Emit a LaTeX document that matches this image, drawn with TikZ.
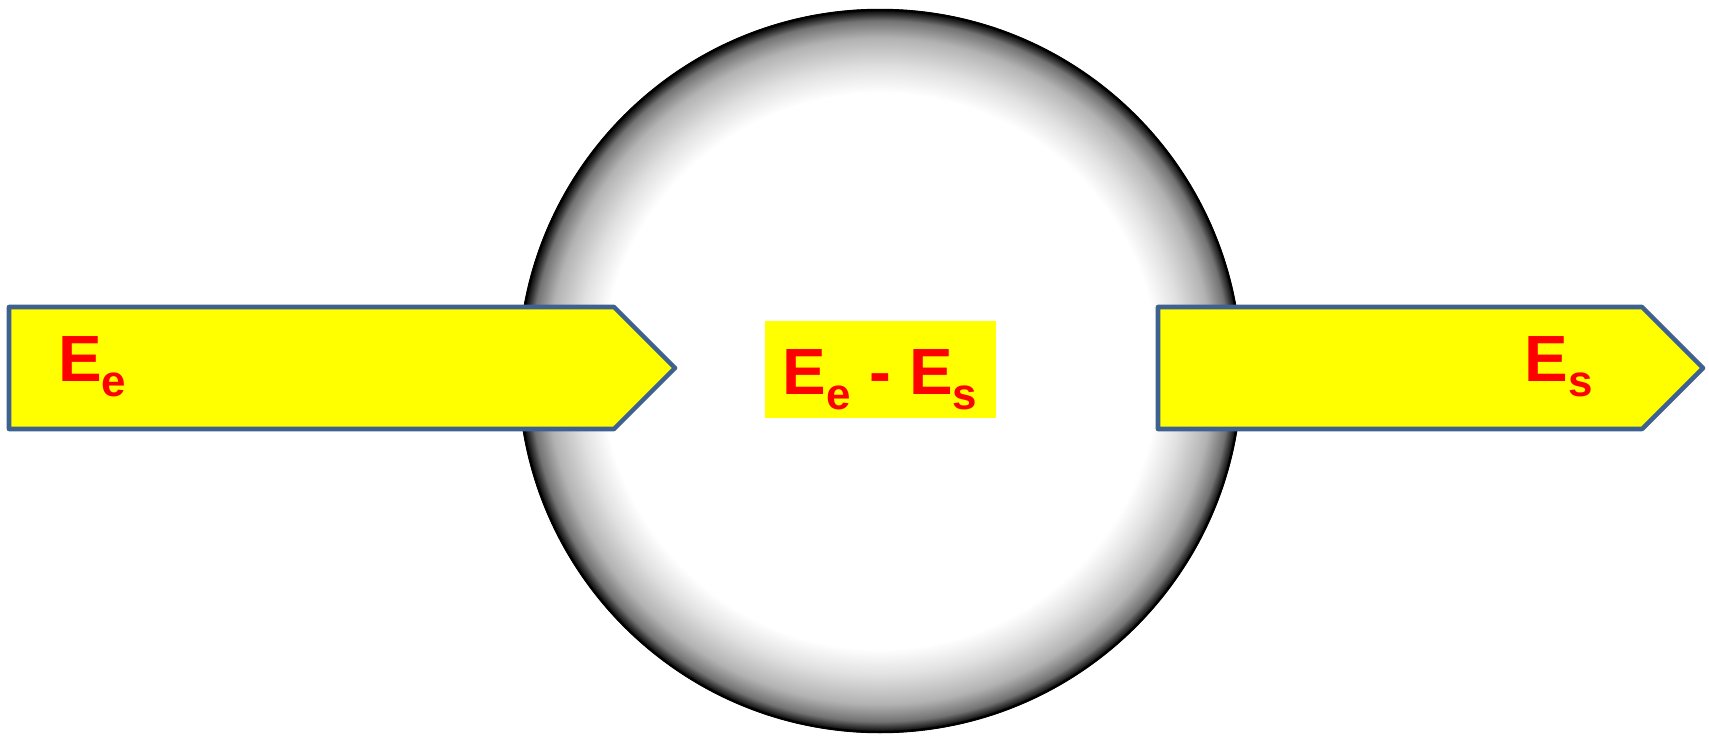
\documentclass[tikz,border=0pt]{standalone}
\usepackage{fontspec}
\setmainfont{Liberation Sans}
\usepackage{tikz}
\definecolor{FlowYellow}{HTML}{FFFF00}
\definecolor{FlowEdge}{HTML}{3F6190}
\definecolor{FlowRed}{HTML}{FF0000}
\pgfdeclareradialshading{shellshade}{\pgfpoint{0bp}{0bp}}{color(0bp)=(white); color(19.2bp)=(white); color(21bp)=(black!12); color(23bp)=(black!30); color(24.2bp)=(black!55); color(24.75bp)=(black!88); color(25bp)=(black); color(50bp)=(black)}
\newcommand{\flowsub}[2]{#1\raisebox{-4.3pt}{\fontsize{12.5}{14}\selectfont #2}}
\newcommand{\flowlabel}[1]{{\fontsize{18.6}{20}\selectfont\bfseries\color{FlowRed}#1}}

\begin{document}
\begin{tikzpicture}[x=1cm,y=1cm]
\path[use as bounding box] (0,0) rectangle (17.09,7.38);
\fill[white] (0,0) rectangle (17.09,7.38);
\shade[shading=shellshade] (8.80,3.67) circle (3.62);
\draw[black,line width=.7pt] (8.80,3.67) circle (3.61);
\filldraw[FlowYellow,draw=FlowEdge,line width=1.3pt,line join=round] (0.09,4.31) -- (6.14,4.31) -- (6.75,3.70) -- (6.14,3.09) -- (0.09,3.09) -- cycle;
\filldraw[FlowYellow,draw=FlowEdge,line width=1.3pt,line join=round] (11.58,4.31) -- (16.42,4.31) -- (17.03,3.70) -- (16.42,3.09) -- (11.58,3.09) -- cycle;
\fill[FlowYellow] (7.65,3.20) rectangle (9.96,4.17);
\node[anchor=base west,inner sep=0pt] (ein) at (0.575,3.57) {\flowlabel{\flowsub{E}{e}}};
\node[anchor=base,inner sep=0pt] (ediff) at (8.80,3.44) {\flowlabel{\flowsub{E}{e} - \flowsub{E}{s}}};
\node[anchor=base west,inner sep=0pt] (eout) at (15.24,3.57) {\flowlabel{\flowsub{E}{s}}};
\end{tikzpicture}
\end{document}
